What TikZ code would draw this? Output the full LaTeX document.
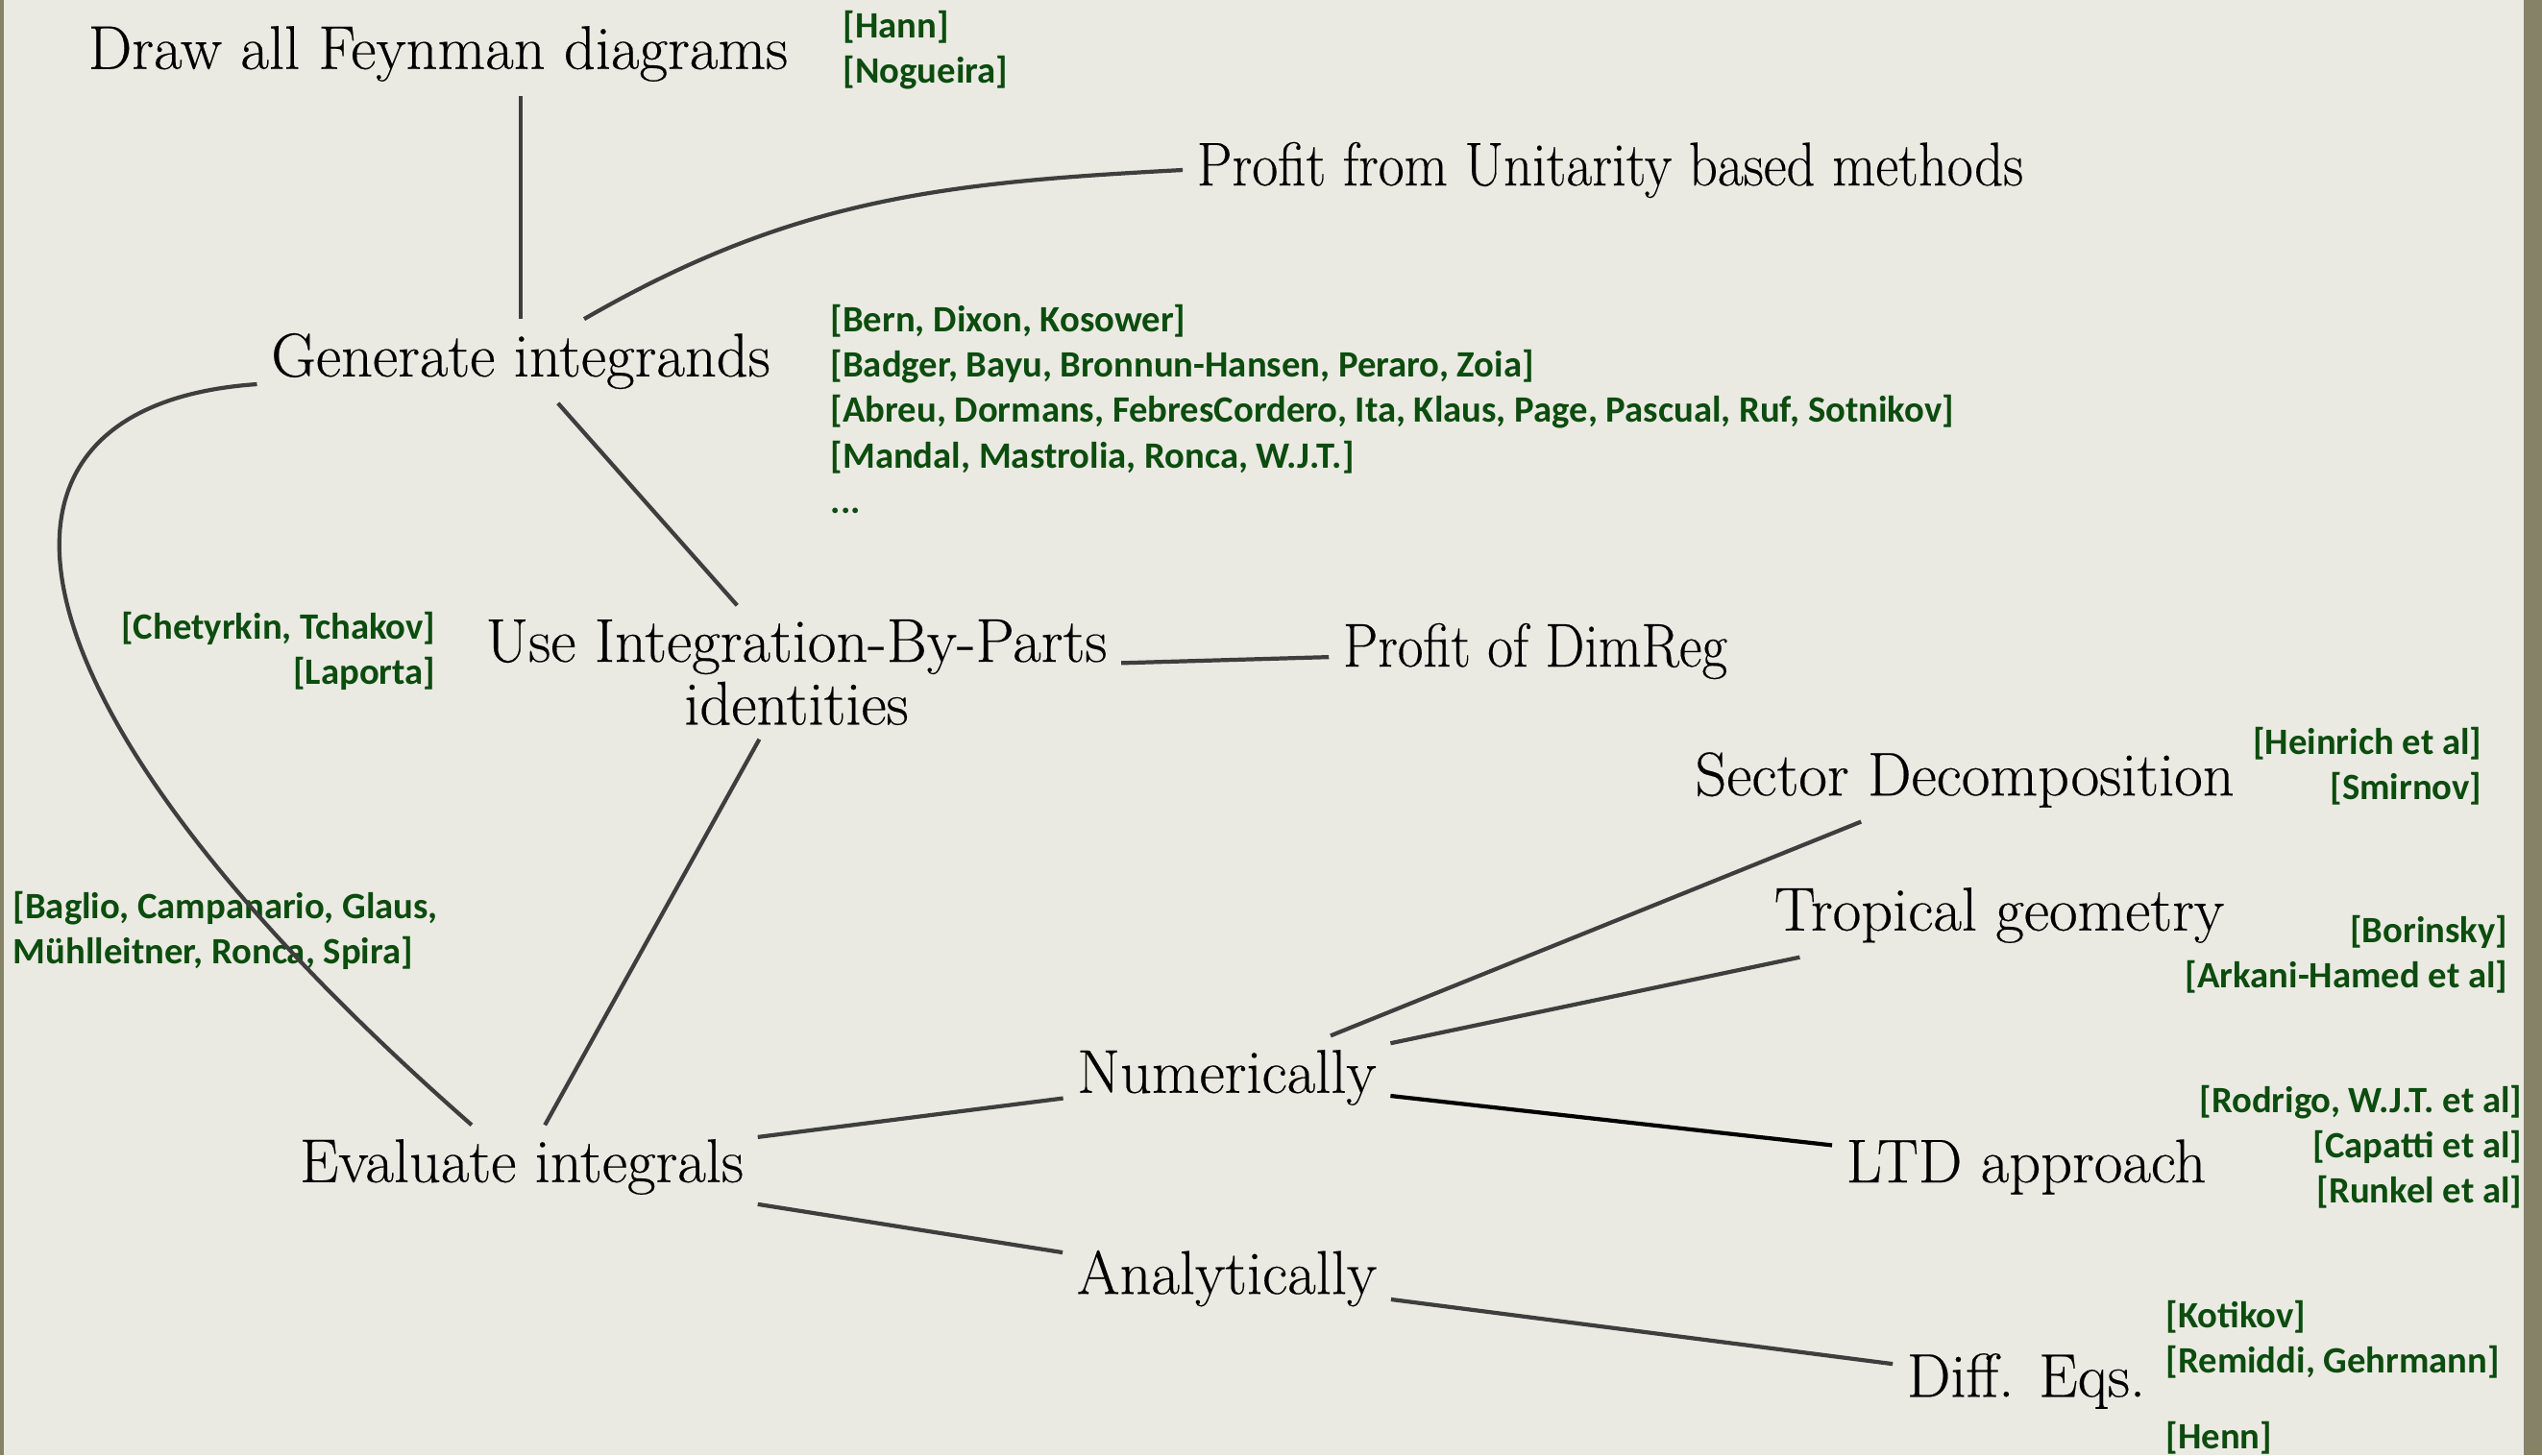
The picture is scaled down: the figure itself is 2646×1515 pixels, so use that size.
\documentclass[tikz,border=0pt]{standalone}
\usepackage{fontspec}
\setmainfont{Latin Modern Roman}[FakeBold=0.3]
\newfontfamily\reffont{Carlito}
\usepackage{tikz}
\usetikzlibrary{arrows}

\definecolor{paper}{RGB}{234,234,227}
\definecolor{rimcol}{RGB}{134,130,104}
\definecolor{refgreen}{RGB}{12,76,14}
\definecolor{linegray}{RGB}{62,62,62}

\begin{document}
\begin{tikzpicture}[x=0.01cm,y=-0.01cm,-,auto]
  \tikzstyle{topic}=[font=\fontsize{18.3}{18.6}\selectfont,text=black,inner sep=4pt]
  \tikzstyle{refs}=[font=\reffont\bfseries\fontsize{11}{13.4}\selectfont,text=refgreen,inner sep=0pt]
  \tikzstyle{link}=[draw=linegray,line width=1.2pt]
  \tikzstyle{every edge}=[link]

  \useasboundingbox (0,0) rectangle (2646,1515);
  \fill[paper] (0,0) rectangle (2646,1515);
  \fill[rimcol] (0,0) rectangle (4,1515);
  \fill[rimcol] (2627,0) rectangle (2646,1515);

  \node[topic] (feyn)   at (456,56)    {Draw all Feynman diagrams};
  \node[topic] (unit)   at (1676,177)  {\scalebox{0.91}[1]{Profit from Unitarity based methods}};
  \node[topic] (gen)    at (542,376)   {Generate integrands};
  \node[topic,align=center] (ibp) at (829,700) {Use Integration-By-Parts\\identities};
  \node[topic] (dimreg) at (1598,678)  {\scalebox{0.9}[1]{Profit of DimReg}};
  \node[topic] (eval)   at (543,1215)  {Evaluate integrals};
  \node[topic] (num)    at (1277,1122) {Numerically};
  \node[topic] (ana)    at (1277,1331) {Analytically};
  \node[topic] (sector) at (2045,812)  {Sector Decomposition};
  \node[topic] (trop)   at (2081,953)  {Tropical geometry};
  \node[topic] (ltd)    at (2109,1215) {LTD approach};
  \node[topic] (diff)   at (2109,1438) {Diff. Eqs.};

  % references
  \node[refs,anchor=west,align=left] (r-feyn) at (877,52) {[Hann]\\{}[Nogueira]};
  \node[refs,anchor=west,align=left] (r-gen) at (864,426)
    {[Bern, Dixon, Kosower]\\{}[Badger, Bayu, Bronnun-Hansen, Peraro, Zoia]\\{}[Abreu, Dormans, FebresCordero, Ita, Klaus, Page, Pascual, Ruf, Sotnikov]\\{}[Mandal, Mastrolia, Ronca, W.J.T.]\\{}...};
  \node[refs,anchor=east,align=right] (r-ibp) at (454,678) {[Chetyrkin, Tchakov]\\{}[Laporta]};
  \node[refs,anchor=west,align=left] (r-eval) at (13,969) {[Baglio, Campanario, Glaus,\\Mühlleitner, Ronca, Spira]};
  \node[refs,anchor=east,align=right] (r-sector) at (2584,798) {[Heinrich et al]\\{}[Smirnov]};
  \node[refs,anchor=east,align=right] (r-trop) at (2611,994) {[Borinsky]\\{}[Arkani-Hamed et al]};
  \node[refs,anchor=east,align=right] (r-ltd) at (2626,1194) {[Rodrigo, W.J.T. et al]\\{}[Capatti et al]\\{}[Runkel et al]};
  \node[refs,anchor=west,align=left] (r-diff) at (2254,1434) {[Kotikov]\\{}[Remiddi, Gehrmann]\\[9pt]\relax[Henn]};

  \path (gen.north) edge (gen.north |- feyn.south)
        (gen) edge (ibp)
        (ibp) edge (dimreg)
        (ibp) edge (eval)
        (eval) edge (num)
        (eval) edge (ana)
        (num) edge (sector)
        (num) edge (trop)
        (num) edge [draw=black] (ltd)
        (ana) edge (diff);

  \draw[link] ([xshift=0.66cm]gen.north) to[out=30,in=183] (unit.west);
  \draw[link] ([yshift=-0.24cm]gen.west) .. controls (-51,422) and (-17,726) .. ([xshift=-0.52cm]eval.north);

\end{tikzpicture}
\end{document}
